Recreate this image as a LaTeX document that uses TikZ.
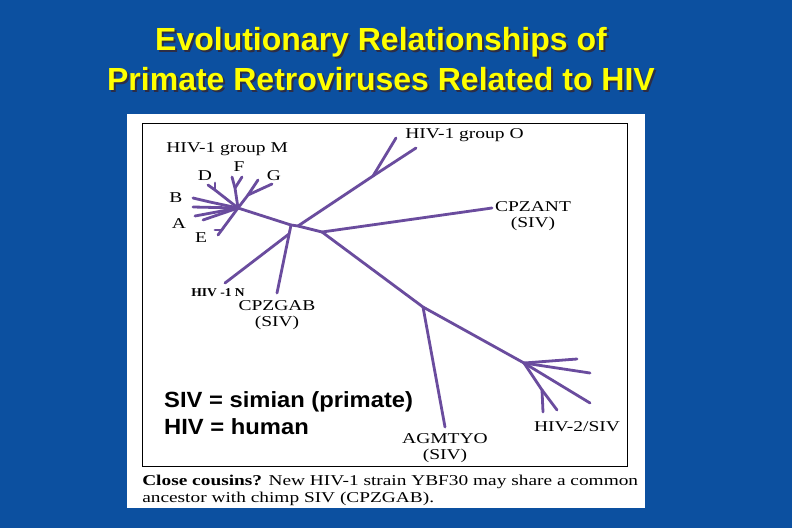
\documentclass[tikz,border=0pt]{standalone}
\usepackage{fontspec}
\setmainfont{Liberation Serif}
\newfontfamily\arialfont{Liberation Sans}
\definecolor{bg}{RGB}{12,80,160}
\definecolor{br}{RGB}{106,76,158}
\definecolor{ttl}{RGB}{255,255,0}
\definecolor{shd}{RGB}{45,45,70}
\newcommand{\shadowtext}[1]{\makebox[0pt][l]{\hspace{2pt}\raisebox{-2pt}{\textcolor{shd}{#1}}}\textcolor{ttl}{#1}}
\begin{document}
\begin{tikzpicture}[x=1pt,y=-1pt,
  br/.style={draw=br, line width=2.8pt, line cap=round, line join=round},
  lab/.style={font=\fontsize{15}{15.5}\selectfont, xscale=1.3, inner sep=0pt, align=center},
  ttlstyle/.style={font=\arialfont\bfseries\fontsize{32}{34}\selectfont, inner sep=0pt},
  keystyle/.style={font=\arialfont\bfseries\fontsize{22}{27}\selectfont, xscale=1.08, inner sep=0pt, align=left, anchor=west}]
\useasboundingbox (0,0) rectangle (792,528);
\fill[bg] (0,0) rectangle (792,528);
\fill[white] (127,114) rectangle (645,508);
\draw[black, line width=0.8pt] (142,123) rectangle (627,466);
% title
\node[ttlstyle] (t1) at (381,43) {\shadowtext{Evolutionary Relationships of}};
\node[ttlstyle] (t2) at (381,80) {\shadowtext{Primate Retroviruses Related to HIV}};
% coordinates
\coordinate (M) at (238,208);
\coordinate (J1) at (291,225);
\coordinate (J2) at (298,226);
\coordinate (J3) at (322,232);
\coordinate (Oh) at (373,176);
\coordinate (O1) at (396,138);
\coordinate (O2) at (416,148);
\coordinate (ANT) at (492,208);
\coordinate (AGj) at (423,307);
\coordinate (AGt) at (445,427);
\coordinate (H2) at (524,363);
\coordinate (H2a) at (577,359);
\coordinate (H2b) at (590,373);
\coordinate (H2c) at (590,403);
\coordinate (H2s) at (542,390);
\coordinate (H2d) at (543,412);
\coordinate (H2e) at (557,410);
\coordinate (GABt) at (277,293);
\coordinate (Nj) at (289,234);
\coordinate (Nt) at (225,283);
% M subtypes
\coordinate (Et) at (218,235);
\coordinate (Ej) at (222,230);
\coordinate (Ew) at (215,230);
\coordinate (A1) at (195,216);
\coordinate (A2) at (203,220);
\coordinate (B1) at (193,198);
\coordinate (B2) at (193,207);
\coordinate (Bj) at (210,202);
\coordinate (Dj) at (215,190);
\coordinate (Dt) at (208,185);
\coordinate (Dw) at (215,183);
\coordinate (Fj) at (235,188);
\coordinate (F1) at (232,177);
\coordinate (F2) at (242,177);
\coordinate (Gj) at (248,195);
\coordinate (G1) at (272,184);
\coordinate (G2) at (258,180);
% branches
\draw[br] (M) -- (J1) -- (J2) -- (J3);
\draw[br] (J2) -- (Oh) -- (O1);
\draw[br] (Oh) -- (O2);
\draw[br] (J3) -- (ANT);
\draw[br] (J3) -- (AGj) -- (H2);
\draw[br] (AGj) -- (AGt);
\draw[br] (H2) -- (H2a);
\draw[br] (H2) -- (H2b);
\draw[br] (H2) -- (H2c);
\draw[br] (H2) -- (H2s) -- (H2d);
\draw[br] (H2s) -- (H2e);
\draw[br] (J1) -- (GABt);
\draw[br] (Nj) -- (Nt);
\draw[br] (M) -- (Et);
\draw[br] (Ej) -- (Ew);
\draw[br] (M) -- (A1);
\draw[br] (M) -- (A2);
\draw[br] (M) -- (Bj) -- (B1);
\draw[br] (M) -- (B2);
\draw[br] (M) -- (Dj) -- (Dt);
\draw[br] (Dj) -- (Dw);
\draw[br] (M) -- (Fj) -- (F1);
\draw[br] (Fj) -- (F2);
\draw[br] (M) -- (Gj) -- (G1);
\draw[br] (Gj) -- (G2);
% labels
\node[lab, anchor=west] (lM) at (166,149) {HIV-1 group M};
\node[lab] (lD) at (205,176) {D};
\node[lab] (lF) at (239,167) {F};
\node[lab] (lG) at (274,176) {G};
\node[lab] (lB) at (176,198) {B};
\node[lab] (lA) at (179,224) {A};
\node[lab] (lE) at (201,238) {E};
\node[lab, anchor=west] (lO) at (405,135) {HIV-1 group O};
\node[lab] (lANT) at (533,216) {CPZANT\\(SIV)};
\node[lab] (lGAB) at (277,315) {CPZGAB\\(SIV)};
\node[lab] (lAGM) at (445,448) {AGMTYO\\(SIV)};
\node[lab] (lH2) at (577,427) {HIV-2/SIV};
\node[fill=white, inner xsep=10pt, inner ysep=3pt, xscale=1.13, font=\bfseries\fontsize{12}{13}\selectfont] (lN) at (218,293) {HIV -1 N};
\node[keystyle] (key) at (164,413) {SIV = simian (primate)\\HIV = human};
\node[font=\fontsize{15}{17}\selectfont, xscale=1.29, inner sep=0pt, align=left, anchor=north west] (cap) at (142,475) {\textbf{Close cousins?} New HIV-1 strain YBF30 may share a common\\ancestor with chimp SIV (CPZGAB).};
\end{tikzpicture}
\end{document}
